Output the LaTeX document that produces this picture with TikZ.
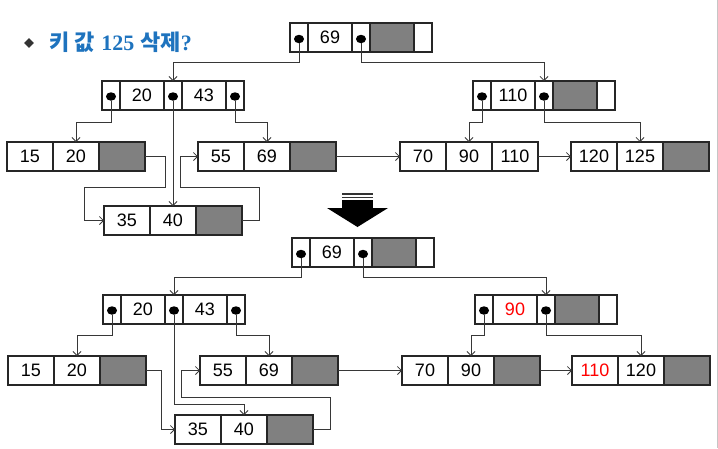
\documentclass[tikz,border=0pt]{standalone}
\usepackage{fontspec}
\setmainfont{Liberation Sans}
\newfontfamily\krfont{Noto Sans CJK KR}
\newfontfamily\titleserif{Liberation Serif}
\usetikzlibrary{arrows.meta,shapes.geometric}
\definecolor{titleblue}{RGB}{30,115,190}
\definecolor{cellgray}{RGB}{128,128,128}
\definecolor{linkgray}{RGB}{55,55,55}
\tikzset{
	boxcell/.style={rectangle, draw=black!85, line width=1.1pt, fill=white, inner sep=0pt, outer sep=0pt, minimum height=29pt, font=\fontsize{18}{21}\selectfont},
	keycell/.style={boxcell, minimum width=46pt},
	leafgray/.style={boxcell, minimum width=46pt, fill=cellgray},
	ikey/.style={boxcell, minimum width=44pt},
	igray/.style={boxcell, minimum width=44pt, fill=cellgray},
	ptrcell/.style={boxcell, minimum width=18pt},
	endcell/.style={boxcell, minimum width=18pt},
	ptrdot/.style={ellipse, fill=black, inner sep=0pt, minimum width=10pt, minimum height=8.5pt},
	ptrlink/.style={draw=linkgray, line width=0.8pt, -{Straight Barb[length=4pt,width=8pt]}}
}
\begin{document}
\begin{tikzpicture}[x=1pt, y=-1pt]
	\useasboundingbox (0,0) rectangle (718,448);
	\draw [gray!45, line width=1pt] (717,0) -- (717,448);
	% Title
	\node [diamond, fill=black!80, inner sep=0pt, minimum size=10pt] (bullet) at (29,43) {};
	\node [anchor=west, inner sep=0pt, text=titleblue, font=\fontsize{22}{25}\selectfont\bfseries] (title) at (49.5,42.5)
		{{\krfont 키 값} {\titleserif 125} {\krfont 삭제}{\titleserif ?}};
	% Upper tree: root
	\foreach \x [count=\i] in {299, 361}
		\node [ptrcell] (ur-p\i) at (\x, 37.5) {};
	\node [ikey] (ur-k1) at (330, 37.5) {69};
	\node [igray] (ur-g) at (392, 37.5) {};
	\node [endcell] (ur-e) at (423, 37.5) {};
	% Upper tree: index layer
	\foreach \x [count=\i] in {111, 173, 235}
		\node [ptrcell] (ui1-p\i) at (\x, 95.5) {};
	\foreach \k [count=\i] in {20, 43}
		\node [ikey] (ui1-k\i) at (80 + 62 * \i, 95.5) {\k};
	\foreach \x [count=\i] in {482, 544}
		\node [ptrcell] (ui2-p\i) at (\x, 95.5) {};
	\node [ikey] (ui2-k1) at (513, 95.5) {110};
	\node [igray] (ui2-g) at (575, 95.5) {};
	\node [endcell] (ui2-e) at (606, 95.5) {};
	% Upper tree: leaves
	\foreach \k [count=\i] in {15, 20}
		\node [keycell] (ul1-k\i) at (-16 + 46 * \i, 156.5) {\k};
	\node [leafgray] (ul1-g) at (122, 156.5) {};
	\foreach \k [count=\i] in {55, 69}
		\node [keycell] (ul2-k\i) at (175 + 46 * \i, 156.5) {\k};
	\node [leafgray] (ul2-g) at (313, 156.5) {};
	\foreach \k [count=\i] in {35, 40}
		\node [keycell] (ul3-k\i) at (81 + 46 * \i, 220.5) {\k};
	\node [leafgray] (ul3-g) at (219, 220.5) {};
	\foreach \k [count=\i] in {70, 90, 110}
		\node [keycell] (ul4-k\i) at (377 + 46 * \i, 156.5) {\k};
	\foreach \k [count=\i] in {120, 125}
		\node [keycell] (ul5-k\i) at (548 + 46 * \i, 156.5) {\k};
	\node [leafgray] (ul5-g) at (686, 156.5) {};
	% Upper tree: pointer dots
	\foreach \a in {1, 2}
		\node [ptrdot] (ur-d\a) at ([yshift=-1.5pt]ur-p\a) {};
	\foreach \a in {1, 2, 3}
		\node [ptrdot] (ui1-d\a) at ([yshift=-1pt]ui1-p\a) {};
	\foreach \a in {1, 2}
		\node [ptrdot] (ui2-d\a) at ([yshift=-1pt]ui2-p\a) {};
	% Upper tree arrows
	\draw [ptrlink] (ur-d1) -- (ur-d1 |- 0,62) -| (ui1-p2.north);
	\draw [ptrlink] (ur-d2) -- (ur-d2 |- 0,62) -| (ui2-p2.north);
	\draw [ptrlink] (ui1-d1) -- (ui1-d1 |- 0,122) -| (ul1-k2.north);
	\draw [ptrlink] (ui1-d2) -- (ul3-k2.north);
	\draw [ptrlink] (ui1-d3) -- (ui1-d3 |- 0,122) -| (ul2-k2.north);
	\draw [ptrlink] (ui2-d1) -- (ui2-d1 |- 0,122) -| (ul4-k2.north);
	\draw [ptrlink] (ui2-d2) -- (ui2-d2 |- 0,122) -| (ul5-k2.north);
	\draw [ptrlink] (ul1-g.east) -| (165,187) -| (84,220.5) -- (ul3-k1.west);
	\draw [ptrlink] (ul3-g.east) -| (259,187) -| (180,156.5) -- (ul2-k1.west);
	\draw [ptrlink] (ul2-g.east) -- (ul4-k1.west);
	\draw [ptrlink] (ul4-k3.east) -- (ul5-k1.west);
	% Big arrow
	\foreach \y in {193, 196.5}
		\fill [black!80] (342,\y) rectangle (373,\y+1.8);
	\fill (342,200) rectangle (373,208.5);
	\fill (327,208) -- (388,208) -- (357.5,227) -- cycle;
	% Lower tree: root
	\foreach \x [count=\i] in {301, 363}
		\node [ptrcell] (lr-p\i) at (\x, 252.5) {};
	\node [ikey] (lr-k1) at (332, 252.5) {69};
	\node [igray] (lr-g) at (394, 252.5) {};
	\node [endcell] (lr-e) at (425, 252.5) {};
	% Lower tree: index layer
	\foreach \x [count=\i] in {112, 174, 236}
		\node [ptrcell] (li1-p\i) at (\x, 309.5) {};
	\foreach \k [count=\i] in {20, 43}
		\node [ikey] (li1-k\i) at (81 + 62 * \i, 309.5) {\k};
	\foreach \x [count=\i] in {484, 546}
		\node [ptrcell] (li2-p\i) at (\x, 309.5) {};
	\node [ikey, text=red] (li2-k1) at (515, 309.5) {90};
	\node [igray] (li2-g) at (577, 309.5) {};
	\node [endcell] (li2-e) at (608, 309.5) {};
	% Lower tree: leaves
	\foreach \k [count=\i] in {15, 20}
		\node [keycell] (ll1-k\i) at (-15 + 46 * \i, 370.5) {\k};
	\node [leafgray] (ll1-g) at (123, 370.5) {};
	\foreach \k [count=\i] in {55, 69}
		\node [keycell] (ll2-k\i) at (177 + 46 * \i, 370.5) {\k};
	\node [leafgray] (ll2-g) at (315, 370.5) {};
	\foreach \k [count=\i] in {35, 40}
		\node [keycell] (ll3-k\i) at (152 + 46 * \i, 429.5) {\k};
	\node [leafgray] (ll3-g) at (290, 429.5) {};
	\foreach \k [count=\i] in {70, 90}
		\node [keycell] (ll4-k\i) at (379 + 46 * \i, 370.5) {\k};
	\node [leafgray] (ll4-g) at (517, 370.5) {};
	\node [keycell, text=red] (ll5-k1) at (595, 370.5) {110};
	\node [keycell] (ll5-k2) at (641, 370.5) {120};
	\node [leafgray] (ll5-g) at (687, 370.5) {};
	% Lower tree: pointer dots
	\foreach \a in {1, 2}
		\node [ptrdot] (lr-d\a) at ([yshift=-1.5pt]lr-p\a) {};
	\foreach \a in {1, 2, 3}
		\node [ptrdot] (li1-d\a) at ([yshift=-1pt]li1-p\a) {};
	\foreach \a in {1, 2}
		\node [ptrdot] (li2-d\a) at ([yshift=-1pt]li2-p\a) {};
	% Lower tree arrows
	\draw [ptrlink] (lr-d1) -- (lr-d1 |- 0,277) -| (li1-p2.north);
	\draw [ptrlink] (lr-d2) -- (lr-d2 |- 0,277) -| (li2-p2.north);
	\draw [ptrlink] (li1-d1) -- (li1-d1 |- 0,335) -| (ll1-k2.north);
	\draw [ptrlink] (li1-d2) -- (li1-d2 |- 0,404) -| (ll3-k2.north);
	\draw [ptrlink] (li1-d3) -- (li1-d3 |- 0,335) -| (ll2-k2.north);
	\draw [ptrlink] (li2-d1) -- (li2-d1 |- 0,335) -| (ll4-k2.north);
	\draw [ptrlink] (li2-d2) -- (li2-d2 |- 0,335) -| (ll5-k2.north);
	\draw [ptrlink] (ll1-g.east) -| (161,429.5) -- (ll3-k1.west);
	\draw [ptrlink] (ll3-g.east) -| (330,397) -| (181,370.5) -- (ll2-k1.west);
	\draw [ptrlink] (ll2-g.east) -- (ll4-k1.west);
	\draw [ptrlink] (ll4-g.east) -- (ll5-k1.west);
\end{tikzpicture}
\end{document}
